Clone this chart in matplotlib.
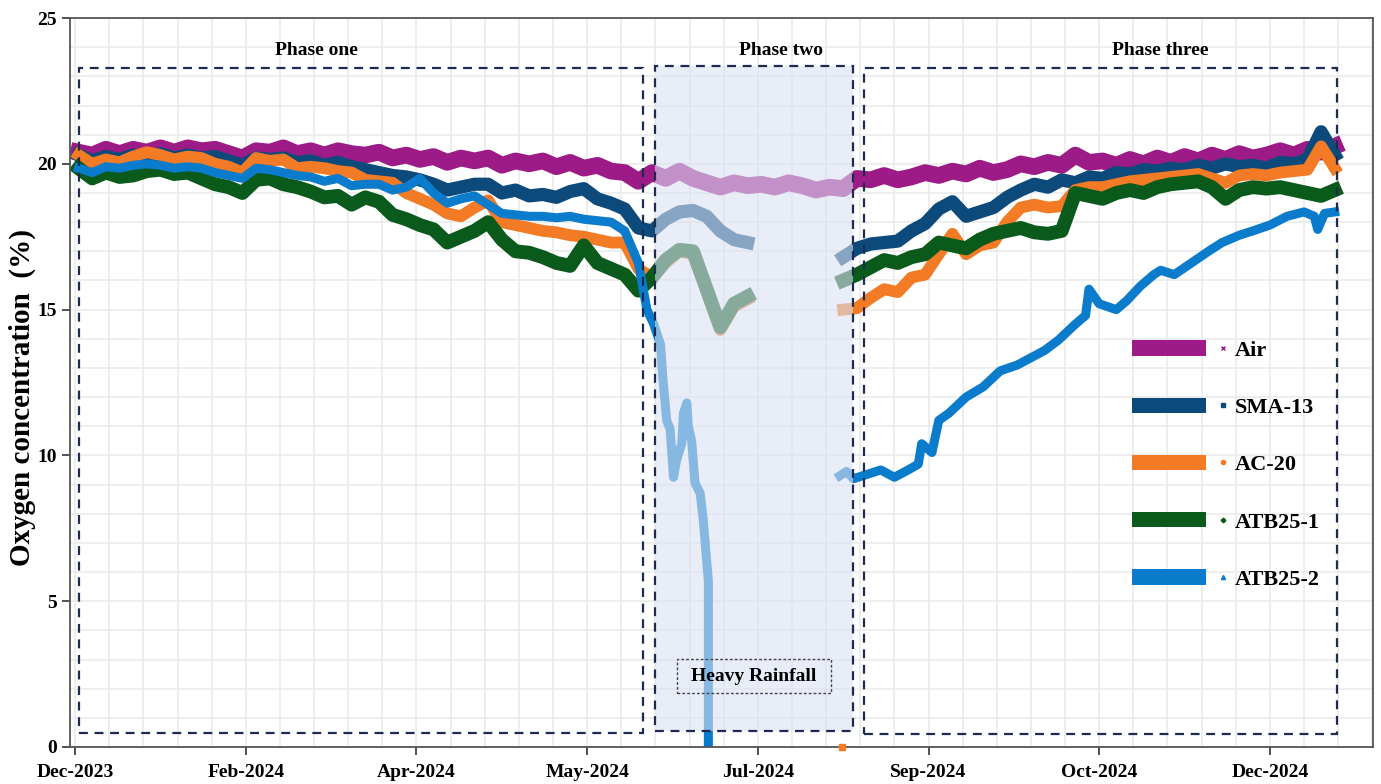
import numpy as np
import matplotlib
matplotlib.use("Agg")
import matplotlib.pyplot as plt
from matplotlib.patches import Rectangle
from matplotlib.lines import Line2D
from matplotlib.legend_handler import HandlerBase
from matplotlib.ticker import MultipleLocator

nan = np.nan

# ---- data (days since start of monitoring) ----
days = list(range(1, 370, 4))  # sampling days shared by Air / SMA-13 / AC-20 / ATB25-1

air = [20.4, 20.3, 20.5, 20.35, 20.5, 20.4, 20.55, 20.4, 20.55, 20.45,
       20.5, 20.35, 20.2, 20.45, 20.4, 20.55, 20.35, 20.45, 20.3, 20.45,
       20.35, 20.3, 20.4, 20.2, 20.3, 20.15, 20.25, 20.05, 20.2, 20.1,
       20.2, 19.95, 20.1, 20.0, 20.1, 19.9, 20.05, 19.85, 19.95, 19.75,
       19.7, 19.4, 19.7, 19.5, 19.75, 19.5, 19.35, 19.2, 19.35, 19.25,
       19.3, 19.2, 19.35, 19.25, 19.1, 19.2, 19.15, 19.5, 19.45, 19.6,
       19.45, 19.55, 19.7, 19.6, 19.75, 19.65, 19.85, 19.7, 19.8, 20.0,
       19.9, 20.05, 19.95, 20.3, 20.05, 20.1, 19.95, 20.15, 20.0, 20.2,
       20.05, 20.25, 20.1, 20.3, 20.15, 20.35, 20.2, 20.3, 20.45, 20.3,
       20.5, 20.4, 20.6]

sma13 = [20.3, 20.1, 20.25, 20.15, 20.3, 20.2, 20.35, 20.2, 20.3, 20.2,
         20.25, 20.1, 19.95, 20.2, 20.15, 20.2, 20.05, 20.1, 19.95, 20.05,
         19.9, 19.8, 19.7, 19.6, 19.55, 19.45, 19.3, 19.1, 19.2, 19.3,
         19.3, 19.0, 19.1, 18.9, 18.95, 18.85, 19.05, 19.15, 18.8, 18.65,
         18.45, 17.8, 17.7, 18.1, 18.35, 18.4, 18.2, 17.7, 17.4, 17.3,
         nan, nan, nan, nan, nan, nan, 16.8, 17.1, 17.25, 17.3,
         17.35, 17.7, 17.95, 18.45, 18.7, 18.2, 18.35, 18.5, 18.85, 19.1,
         19.3, 19.2, 19.45, 19.35, 19.55, 19.5, 19.7, 19.65, 19.8, 19.75,
         19.85, 19.8, 19.95, 19.85, 20.0, 19.9, 19.95, 19.85, 20.05, 20.0,
         20.15, 21.1, 20.3]

ac20 = [20.3, 20.0, 20.15, 20.05, 20.25, 20.4, 20.3, 20.15, 20.25, 20.2,
        20.0, 19.9, 19.7, 20.2, 20.1, 20.15, 19.85, 19.9, 19.85, 19.75,
        19.7, 19.45, 19.4, 19.35, 19.0, 18.8, 18.6, 18.3, 18.2, 18.5,
        18.75, 18.0, 17.9, 17.8, 17.7, 17.65, 17.55, 17.5, 17.4, 17.3,
        17.3, 16.4, 16.1, 16.6, 17.0, 16.9, 15.6, 14.3, 15.1, 15.35,
        nan, nan, nan, nan, nan, nan, 15.0, 15.05, 15.4, 15.7,
        15.6, 16.1, 16.2, 16.9, 17.6, 16.9, 17.2, 17.3, 18.0, 18.5,
        18.6, 18.5, 18.55, 19.1, 19.2, 19.2, 19.3, 19.4, 19.45, 19.5,
        19.55, 19.6, 19.65, 19.5, 19.35, 19.6, 19.65, 19.6, 19.7, 19.75,
        19.8, 20.6, 19.85]

atb25_1 = [19.85, 19.5, 19.7, 19.55, 19.6, 19.75, 19.8, 19.65, 19.7, 19.5,
           19.3, 19.2, 19.0, 19.45, 19.5, 19.3, 19.2, 19.05, 18.85, 18.9,
           18.6, 18.85, 18.7, 18.25, 18.1, 17.9, 17.75, 17.3, 17.5, 17.7,
           18.0, 17.4, 17.0, 16.95, 16.8, 16.6, 16.5, 17.2, 16.6, 16.4,
           16.2, 15.65, 16.1, 16.7, 17.05, 17.0, 15.7, 14.4, 15.2, 15.45,
           nan, nan, nan, nan, nan, nan, 16.0, 16.2, 16.45, 16.7,
           16.6, 16.8, 16.9, 17.3, 17.2, 17.1, 17.4, 17.6, 17.7, 17.8,
           17.65, 17.6, 17.7, 19.0, 18.9, 18.8, 19.0, 19.1, 19.0, 19.2,
           19.3, 19.35, 19.4, 19.2, 18.8, 19.1, 19.2, 19.15, 19.2, 19.1,
           19.0, 18.9, 19.1]

# ATB25-2 has its own sampling (sharp drop during the heavy rainfall)
atb25_2_days = days[:42] + [
    167.5, 169.5, 171.5, 172.2, 173.3, 174.3, 175.3, 176.2, 177.7, 178.2,
    179.2, 179.6, 180.6, 181.6, 183.1, 184.0, 185.5, 185.5, 200,
    224, 226, 228, 232, 236, 240, 244, 247, 248, 251,
    253, 256, 261, 266, 271, 276, 280, 284, 288, 293,
    296, 297, 300, 305, 308, 312, 316, 318, 322, 327,
    332, 336, 341, 345, 350, 355, 360, 363, 364, 366, 369]
atb25_2 = [19.85, 19.7, 19.9, 19.85, 19.95, 20.0, 19.95, 19.85, 19.9, 19.85,
           19.7, 19.6, 19.5, 19.85, 19.8, 19.7, 19.6, 19.55, 19.4, 19.5,
           19.25, 19.3, 19.3, 19.1, 19.2, 19.5, 19.0, 18.65, 18.8, 18.9,
           18.6, 18.3, 18.25, 18.2, 18.2, 18.15, 18.2, 18.1, 18.05, 18.0,
           17.7, 16.6,
           15.0, 14.5, 13.8, 12.6, 11.2, 10.9, 9.25, 9.85, 10.4, 11.45,
           11.8, 11.0, 10.5, 9.05, 8.7, 7.8, 5.7, 0.0, nan,
           9.3, 9.45, 9.2, 9.35, 9.5, 9.25, 9.5, 9.7, 10.4, 10.1,
           11.2, 11.45, 12.0, 12.35, 12.9, 13.1, 13.35, 13.6, 13.95, 14.5,
           14.8, 15.7, 15.2, 15.0, 15.3, 15.8, 16.2, 16.35, 16.2, 16.6,
           17.0, 17.3, 17.55, 17.7, 17.9, 18.2, 18.35, 18.2, 17.75, 18.3,
           18.35]

# single AC-20 reading logged as 0 just before phase three
ac20_zero_day = [224.7]
ac20_zero_val = [0.0]

names = ["Air", "SMA-13", "AC-20", "ATB25-1", "ATB25-2"]
colors = ["#9c1b87", "#0c4a7c", "#f37b25", "#0a5a1c", "#0b7bcc"]
markers = ["x", "s", "o", "P", "^"]

xtick_labels = ["Dec-2023", "Feb-2024", "Apr-2024", "May-2024",
                "Jul-2024", "Sep-2024", "Oct-2024", "Dec-2024"]

plt.rcParams["font.family"] = ["Liberation Serif", "DejaVu Serif"]
plt.rcParams["font.weight"] = "bold"

fig = plt.figure(figsize=(13.81, 7.84), dpi=100)
ax = fig.add_axes([0.0507, 0.0472, 0.9435, 0.9298])

# series
ax.plot(days, air, color=colors[0], lw=12, zorder=2)
ax.plot(days, sma13, color=colors[1], lw=9.5, zorder=2)
ax.plot(days, ac20, color=colors[2], lw=8.5, zorder=2)
ax.plot(days, atb25_1, color=colors[3], lw=10, zorder=2)
ax.plot(atb25_2_days, atb25_2, color=colors[4], lw=6.5, zorder=2)
ax.plot(ac20_zero_day, ac20_zero_val, ls="", marker="s", ms=5,
        color=colors[2], clip_on=False, zorder=6)

# phase boxes
dash = (0, (4, 3))
box_ec = "#1c2b4f"
ax.add_patch(Rectangle((169.9, 0.55), 58.0, 22.8, facecolor="#dae1f2",
                       edgecolor="none", alpha=0.6, zorder=3))
for x0, x1, y0, y1 in [(1.2, 166.4, 0.48, 23.28),
                       (169.9, 227.9, 0.55, 23.35),
                       (231.1, 369.6, 0.45, 23.3)]:
    ax.add_patch(Rectangle((x0, y0), x1 - x0, y1 - y0, fill=False,
                           edgecolor=box_ec, lw=1.6, ls=dash, zorder=4))

ax.text(70.6, 23.9, "Phase one", ha="center", va="center", fontsize=14,
        fontweight="bold", zorder=5)
ax.text(206.8, 23.9, "Phase two", ha="center", va="center", fontsize=14,
        fontweight="bold", zorder=5)
ax.text(318.0, 23.9, "Phase three", ha="center", va="center", fontsize=14,
        fontweight="bold", zorder=5)

ax.add_patch(Rectangle((176.3, 1.85), 45.1, 1.17, fill=False, edgecolor="#444444",
                       lw=1.0, ls=(0, (2, 1.5)), zorder=5))
ax.text(198.9, 2.43, "Heavy Rainfall", ha="center", va="center", fontsize=14,
        fontweight="bold", zorder=5)

# axes, ticks, grid
ax.set_xlim(-1.5, 380.2)
ax.set_ylim(0, 25)
ax.set_xticks(range(0, 351, 50))
ax.set_xticklabels(xtick_labels)
ax.set_yticks(range(0, 26, 5))
ax.xaxis.set_minor_locator(MultipleLocator(10))
ax.yaxis.set_minor_locator(MultipleLocator(1))
ax.grid(which="both", color="#ebebeb", lw=1.2)
ax.set_axisbelow(True)
ax.tick_params(which="major", direction="out", length=6, width=1.2,
               colors="#333333", labelsize=14, labelcolor="black")
ax.tick_params(which="minor", length=0)
ax.tick_params(axis="x", pad=6)
for s in ax.spines.values():
    s.set_color("#555555")
    s.set_linewidth(1.3)

ax.set_ylabel("Oxygen concentration  (%)", fontsize=21, fontweight="bold",
              labelpad=6)
ax.yaxis.set_label_coords(-0.026, 0.48)


# legend: a wide colour bar followed by a small marker
class LegendKey:
    def __init__(self, color, marker):
        self.color = color
        self.marker = marker


class BarMarkerHandler(HandlerBase):
    def create_artists(self, legend, orig_handle, xdescent, ydescent,
                       width, height, fontsize, trans):
        bar = Rectangle((-xdescent, -ydescent), width * 0.77, height,
                        facecolor=orig_handle.color, edgecolor="none",
                        transform=trans)
        dot = Line2D([-xdescent + width - 3], [-ydescent + height / 2],
                     marker=orig_handle.marker, color=orig_handle.color,
                     markersize=3, lw=0, transform=trans)
        return [bar, dot]


keys = [LegendKey(c, m) for c, m in zip(colors, markers)]
ax.legend(keys, names, handler_map={LegendKey: BarMarkerHandler()},
          loc="upper left", bbox_to_anchor=(0.815, 0.558), frameon=False,
          fontsize=16, handlelength=4.3, handleheight=0.68,
          handletextpad=0.35, labelspacing=1.66, borderpad=0,
          borderaxespad=0)

fig.savefig("out.png", dpi=100)
